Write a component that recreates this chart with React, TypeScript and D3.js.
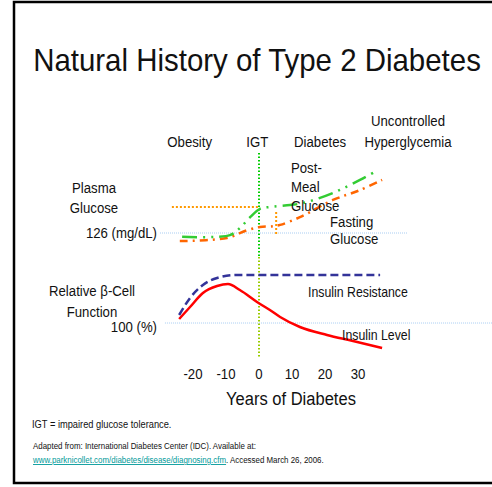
import React from 'react';
import * as d3 from 'd3';

// values (years of diabetes, mg/dL, % beta-cell function)
const tickYears = [-20, -10, 0, 10, 20, 30];
const stageLabels = ['Obesity', 'IGT', 'Diabetes'];
const stageYears = [-21, -0.5, 18.5];

const postMealYears = [-23.3, -8.8, -5.8, -2.7, 0.3, 3.3, 9.4, 13.3, 22.4, 30.6, 36];
const postMealGlucose = [115, 120, 140, 171, 195, 200, 206, 211, 240, 277, 305];

const fastingYears = [-24, -9.7, -3.6, 0.3, 4.2, 6.4, 12.4, 22.4, 30.6, 37.3];
const fastingGlucose = [103, 112, 134, 143, 145, 149, 171, 220, 248, 277];

const insulinLevelYears = [-24.2, -20.9, -17, -12.7, -9.4, -5.8, -0.6, 3.3, 6.4, 12.4, 20.6, 28.5, 37.3];
const insulinLevel = [104, 116, 130, 137, 139, 133, 121, 113, 106, 96, 88, 82, 75];

const resistanceYears = [-24.2, -20.9, -17, -12.7, -6.7, -0.6, 36.7];
const resistance = [108, 125, 138, 145, 148, 148, 148];

const FONT = '"Liberation Sans", Arial, sans-serif';

// Arial-Narrow-ish text: squeeze regular sans horizontally
function T({ x, y, size, anchor = 'start', sx = 0.88, fill = '#111', children }: any) {
  return (
    <text
      transform={`translate(${x},${y}) scale(${sx},1)`}
      textAnchor={anchor}
      fontSize={size}
      fontFamily={FONT}
      fill={fill}
    >
      {children}
    </text>
  );
}

export default function App() {
  const W = 492, H = 487;
  const x = d3.scaleLinear().domain([0, 10]).range([259, 292]);
  const yG = d3.scaleLinear().domain([126, 200]).range([233, 207]);
  const yB = d3.scaleLinear().domain([100, 150]).range([323, 273]);

  const glucoseLine = (xs: number[], ys: number[]) =>
    d3.line<number>().x((d, i) => x(xs[i])).y(d => yG(d)).curve(d3.curveCatmullRom.alpha(0.5))(ys) || '';
  const betaLine = (xs: number[], ys: number[]) =>
    d3.line<number>().x((d, i) => x(xs[i])).y(d => yB(d)).curve(d3.curveMonotoneX)(ys) || '';

  return (
    <svg width={W} height={H} style={{ position: 'absolute', left: 0, top: 0, background: '#fff' }}>
      <rect x={14} y={2} width={W + 20} height={481} fill="#fff" stroke="#000" strokeWidth={2.5} />

      <T x={257} y={71} size={31} anchor="middle" sx={0.95}>Natural History of Type 2 Diabetes</T>

      {/* stage labels */}
      {stageLabels.map((s, i) => (
        <T key={s} x={x(stageYears[i])} y={147} size={15} anchor="middle">{s}</T>
      ))}
      <T x={408} y={126} size={15} anchor="middle">Uncontrolled</T>
      <T x={408} y={147} size={15} anchor="middle">Hyperglycemia</T>

      {/* reference lines */}
      <line x1={x(-30)} x2={x(45)} y1={yG(126)} y2={yG(126)} stroke="#a9cdf2" strokeWidth={1} strokeDasharray="1,1" />
      <line x1={x(-28.5)} x2={W} y1={yB(100)} y2={yB(100)} stroke="#a9cdf2" strokeWidth={1} strokeDasharray="1,1" />
      <line x1={x(-26.4)} x2={x(0.3)} y1={yG(200)} y2={yG(200)} stroke="#ff9900" strokeWidth={2} strokeDasharray="2,2" />
      <line x1={x(5.2)} x2={x(5.2)} y1={yG(186)} y2={yG(120)} stroke="#ff9900" strokeWidth={2} strokeDasharray="2,2" />
      <line x1={x(0)} x2={x(0)} y1={153} y2={257} stroke="#00cc00" strokeWidth={2} strokeDasharray="1.5,2" />
      <line x1={x(0)} x2={x(0)} y1={257} y2={357} stroke="#99cc00" strokeWidth={2} strokeDasharray="1.5,2" />

      {/* glucose curves */}
      <path d={glucoseLine(fastingYears, fastingGlucose)} fill="none" stroke="#ff6600" strokeWidth={2.5} strokeDasharray="8,5,2,5" />
      <path d={glucoseLine(postMealYears, postMealGlucose)} fill="none" stroke="#33cc33" strokeWidth={2.5} strokeDasharray="15,6,2,6,2,6" />

      {/* beta-cell curves */}
      <path d={betaLine(resistanceYears, resistance)} fill="none" stroke="#333399" strokeWidth={2.5} strokeDasharray="8,4" />
      <path d={betaLine(insulinLevelYears, insulinLevel)} fill="none" stroke="#ff0000" strokeWidth={2.5} />

      {/* curve labels */}
      <T x={291} y={173} size={15}>Post-</T>
      <T x={291} y={192} size={15}>Meal</T>
      <T x={291} y={211} size={15}>Glucose</T>
      <T x={330} y={227} size={15}>Fasting</T>
      <T x={330} y={244} size={15}>Glucose</T>
      <T x={308} y={297} size={14}>Insulin Resistance</T>
      <T x={342} y={340} size={14}>Insulin Level</T>

      {/* y-axis labels */}
      <T x={94} y={193} size={15} anchor="middle">Plasma</T>
      <T x={94} y={213} size={15} anchor="middle">Glucose</T>
      <T x={157} y={238} size={15} anchor="end">126 (mg/dL)</T>
      <T x={92} y={296} size={15} anchor="middle">Relative β-Cell</T>
      <T x={92} y={317} size={15} anchor="middle">Function</T>
      <T x={157} y={332} size={15} anchor="end">100 (%)</T>

      {/* x ticks */}
      {tickYears.map(t => (
        <T key={t} x={x(t)} y={379} size={15} anchor="middle">{t}</T>
      ))}
      <T x={291} y={405} size={19} anchor="middle" sx={0.87}>Years of Diabetes</T>

      {/* footnotes */}
      <T x={32} y={428} size={10} sx={0.93}>IGT = impaired glucose tolerance.</T>
      <T x={33} y={449} size={9}>Adapted from: International Diabetes Center (IDC). Available at:</T>
      <T x={33} y={463} size={9}>
        <tspan fill="#009999" textDecoration="underline" style={{ textDecoration: 'underline' }}>www.parknicollet.com/diabetes/disease/diagnosing.cfm</tspan>
        <tspan>. Accessed March 26, 2006.</tspan>
      </T>
    </svg>
  );
}
